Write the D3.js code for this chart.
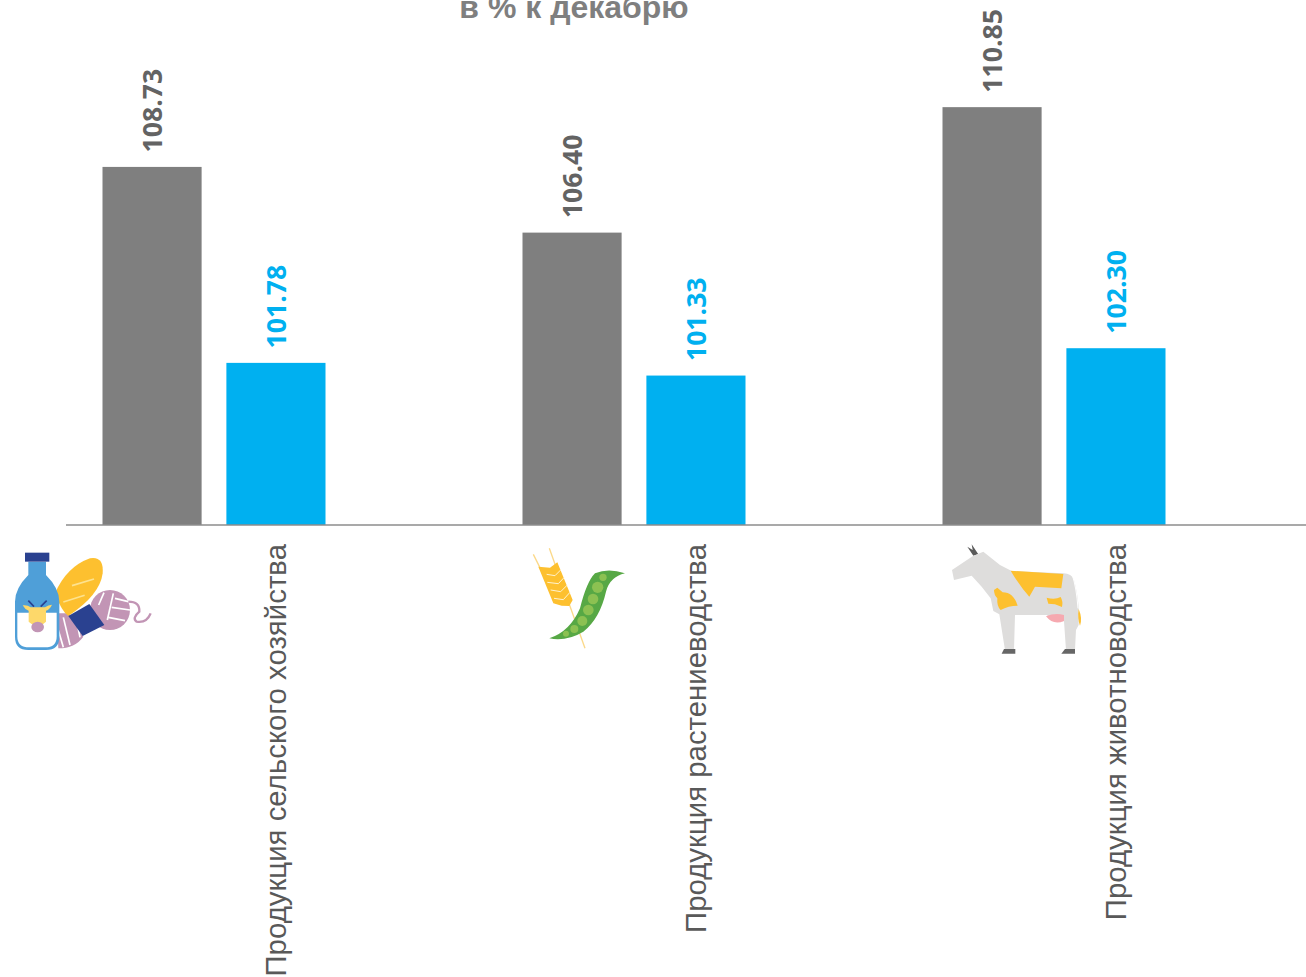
<!DOCTYPE html>
<html>
<head>
<meta charset="utf-8">
<script src="https://cdnjs.cloudflare.com/ajax/libs/d3/7.8.5/d3.min.js"></script>
<style>
  html, body { margin: 0; padding: 0; background: #fff; overflow: hidden; }
  svg { display: block; }
</style>
</head>
<body>
<svg id="chart"></svg>
<script>
const categories = ["Продукция сельского хозяйства", "Продукция растениеводства", "Продукция животноводства"];
const seriesGray = [108.73, 106.40, 110.85];
const seriesBlue = [101.78, 101.33, 102.30];
const title = "в % к декабрю";

const width = 1306;
const height = 977;
const baseline = 525;

const svg = d3.select("#chart").attr("width", width).attr("height", height);

const x = d3.scaleBand().domain(categories).range([4, 1264]).paddingInner(0).paddingOuter(0);
const x2 = d3.scaleBand().domain(["gray", "blue"]).range([98.5, 321.5]).paddingInner(0.2).paddingOuter(0);
// 1 unit is about 28.2 px on the picture
const y = d3.scaleLinear().domain([96.03, 114.65]).range([baseline, 0]);

svg.append("text")
  .attr("x", 574).attr("y", 18)
  .attr("text-anchor", "middle")
  .style("font-family", "Liberation Sans").style("font-weight", "bold").style("font-size", "32px")
  .attr("fill", "#7f7f7f")
  .text(title);

const groups = [
  { key: "gray", values: seriesGray, fill: "#7f7f7f", label: "#636363" },
  { key: "blue", values: seriesBlue, fill: "#00b0f0", label: "#00b0f0" }
];

groups.forEach(s => {
  const barX = i => x(categories[i]) + x2(s.key);
  svg.selectAll(".bar-" + s.key)
    .data(s.values)
    .enter()
    .append("rect")
    .attr("class", "bar-" + s.key)
    .attr("x", (d, i) => barX(i))
    .attr("y", d => y(d))
    .attr("width", x2.bandwidth())
    .attr("height", d => baseline - y(d))
    .attr("fill", s.fill);

  svg.selectAll(".val-" + s.key)
    .data(s.values)
    .enter()
    .append("text")
    .attr("class", "val-" + s.key)
    .attr("transform", (d, i) => `translate(${barX(i) + x2.bandwidth() / 2 + 10},${y(d) - 14.5}) rotate(-90)`)
    .style("font-family", "Open Sans").style("font-weight", "bold").style("font-size", "26.6px")
    .attr("fill", s.label)
    .text(d => d.toFixed(2));
});

// axis line, longer than the bands so it is drawn on its own
svg.append("line")
  .attr("x1", 66).attr("x2", width).attr("y1", baseline).attr("y2", baseline)
  .attr("stroke", "#8c8c8c").attr("stroke-width", 1.3);

svg.selectAll(".cat")
  .data(categories)
  .enter()
  .append("text")
  .attr("class", "cat")
  .attr("transform", d => `translate(${x(d) + x2("blue") + x2.bandwidth() / 2 + 10.5},544) rotate(-90)`)
  .attr("text-anchor", "end")
  .style("font-family", "Liberation Sans").style("font-size", "29.4px")
  .attr("fill", "#595959")
  .text(d => d);

const icon1 = svg.append("g").attr("transform", "translate(0,530) scale(0.3333)");
const pink = "#c295b5";
const yarnLines = [[190, 262, 210, 345], [172, 290, 190, 352], [228, 262, 240, 322], [312, 188, 296, 225], [340, 190, 322, 270], [345, 205, 385, 215], [335, 232, 390, 240], [325, 262, 375, 272]];
icon1.append("circle").attr("cx", 330).attr("cy", 240).attr("r", 60).attr("fill", pink);
icon1.append("path").attr("d", "M170,250 L205,250 L250,320 Q225,355 175,355 Z").attr("fill", pink);
icon1.selectAll(".yl").data(yarnLines).enter().append("line").attr("class", "yl")
  .attr("x1", d => d[0]).attr("y1", d => d[1]).attr("x2", d => d[2]).attr("y2", d => d[3])
  .attr("stroke", "#fff").attr("stroke-width", 5);
icon1.append("path").attr("d", "M385,215 Q420,215 418,245 Q395,265 410,275 Q440,280 452,250")
  .attr("fill", "none").attr("stroke", pink).attr("stroke-width", 7);
icon1.append("path").attr("d", "M165,190 Q200,110 270,85 Q312,78 308,130 Q300,195 205,258 Q185,245 165,190 Z").attr("fill", "#fdc02f");
icon1.append("line").attr("x1", 216).attr("y1", 167).attr("x2", 282).attr("y2", 147).attr("stroke", "#fde28f").attr("stroke-width", 5);
icon1.append("line").attr("x1", 190).attr("y1", 216).attr("x2", 254).attr("y2", 196).attr("stroke", "#fde28f").attr("stroke-width", 5);
icon1.append("path").attr("d", "M205,258 L268,222 L313,285 L248,318 Z").attr("fill", "#2a4190");
icon1.append("path").attr("d", "M85,95 L138,95 L138,135 Q178,175 178,215 L178,320 Q178,360 138,360 L85,360 Q45,360 45,320 L45,215 Q45,175 85,135 Z").attr("fill", "#4f9fd8");
icon1.append("path").attr("d", "M52,248 L170,248 L170,320 Q170,352 135,352 L88,352 Q52,352 52,320 Z").attr("fill", "#fff");
icon1.append("rect").attr("x", 75).attr("y", 68).attr("width", 73).attr("height", 27).attr("fill", "#2a4190");
icon1.append("path").attr("d", "M85,212 L102,230 M140,212 L122,230").attr("stroke", "#2a4190").attr("stroke-width", 5);
icon1.append("path").attr("d", "M68,226 Q82,224 92,232 L135,232 Q145,224 156,224 Q150,238 138,242 L138,275 Q113,300 86,275 L86,242 Q74,238 68,226 Z").attr("fill", "#fdd86a");
icon1.append("ellipse").attr("cx", 113).attr("cy", 291).attr("rx", 19).attr("ry", 16).attr("fill", "#c295b5");

const icon2 = svg.append("g").attr("transform", "translate(520,535) scale(0.3333)");
const wheat = "#fdc02f";
icon2.append("path").attr("d", "M40,58 L70,118 M88,40 L195,340").attr("stroke", "#fbd98a").attr("stroke-width", 4).attr("fill", "none");
icon2.append("path").attr("d", "M55,95 L90,98 L112,82 L158,195 L148,213 L125,212 L100,205 Z").attr("fill", wheat);
icon2.selectAll(".w").data([[80, 118, 105, 122, 122, 105], [82, 142, 115, 146, 132, 128], [92, 165, 122, 170, 142, 150], [102, 190, 130, 194, 150, 172]])
  .enter().append("path").attr("class", "w")
  .attr("d", d => `M${d[0]},${d[1]} L${d[2]},${d[3]} L${d[4]},${d[5]}`)
  .attr("fill", "none").attr("stroke", "#fff3d0").attr("stroke-width", 3);
icon2.append("path").attr("d", "M88,310 Q150,290 180,220 Q200,140 225,115 Q265,98 315,115 Q270,125 258,170 Q240,250 190,290 Q140,320 88,310 Z").attr("fill", "#57a845");
const peas = [[138, 296, 9], [163, 282, 12], [187, 258, 15], [205, 225, 16], [219, 192, 16], [233, 157, 17], [249, 127, 11]];
icon2.selectAll(".pea").data(peas).enter().append("circle").attr("class", "pea")
  .attr("cx", d => d[0]).attr("cy", d => d[1]).attr("r", d => d[2]).attr("fill", "#8cc152");

const icon3 = svg.append("g").attr("transform", "translate(940,535) scale(0.3333)");
icon3.append("path").attr("d", "M100,62 L82,35 L98,45 L95,28 L115,58 Z").attr("fill", "#5a5a5a");
icon3.append("path").attr("d", "M36,105 L100,62 L130,50 L180,90 L215,108 L370,115 Q395,115 402,135 Q412,170 416,215 L416,270 L408,285 L405,345 L378,345 L372,258 Q350,262 320,240 L225,240 L222,345 L195,345 L178,238 L160,228 L152,190 L125,155 L95,122 L42,135 Z").attr("fill", "#dedddc");
icon3.append("path").attr("d", "M212,107 L370,117 L364,160 L285,155 L268,185 Q240,155 212,107 Z").attr("fill", "#fdc02f");
icon3.append("path").attr("d", "M162,165 L172,158 L188,172 Q220,172 233,212 Q205,212 182,225 Q170,215 172,190 Q162,180 162,165 Z").attr("fill", "#fdc02f");
icon3.append("path").attr("d", "M320,188 Q345,195 362,186 Q370,200 366,216 L345,208 L325,206 Z").attr("fill", "#fdc02f");
icon3.append("path").attr("d", "M318,244 Q345,232 372,240 L372,258 Q340,272 318,244 Z").attr("fill", "#f6a9b0");
icon3.append("path").attr("d", "M397,120 Q410,160 414,220").attr("fill", "none").attr("stroke", "#fff").attr("stroke-width", 3);
icon3.append("path").attr("d", "M416,222 Q428,250 420,272 Q412,250 416,222 Z").attr("fill", "#fdc02f");
icon3.append("path").attr("d", "M192,342 L226,342 L226,356 L185,356 Z").attr("fill", "#666");
icon3.append("path").attr("d", "M375,342 L405,342 L405,356 L364,356 Z").attr("fill", "#666");
</script>
</body>
</html>
